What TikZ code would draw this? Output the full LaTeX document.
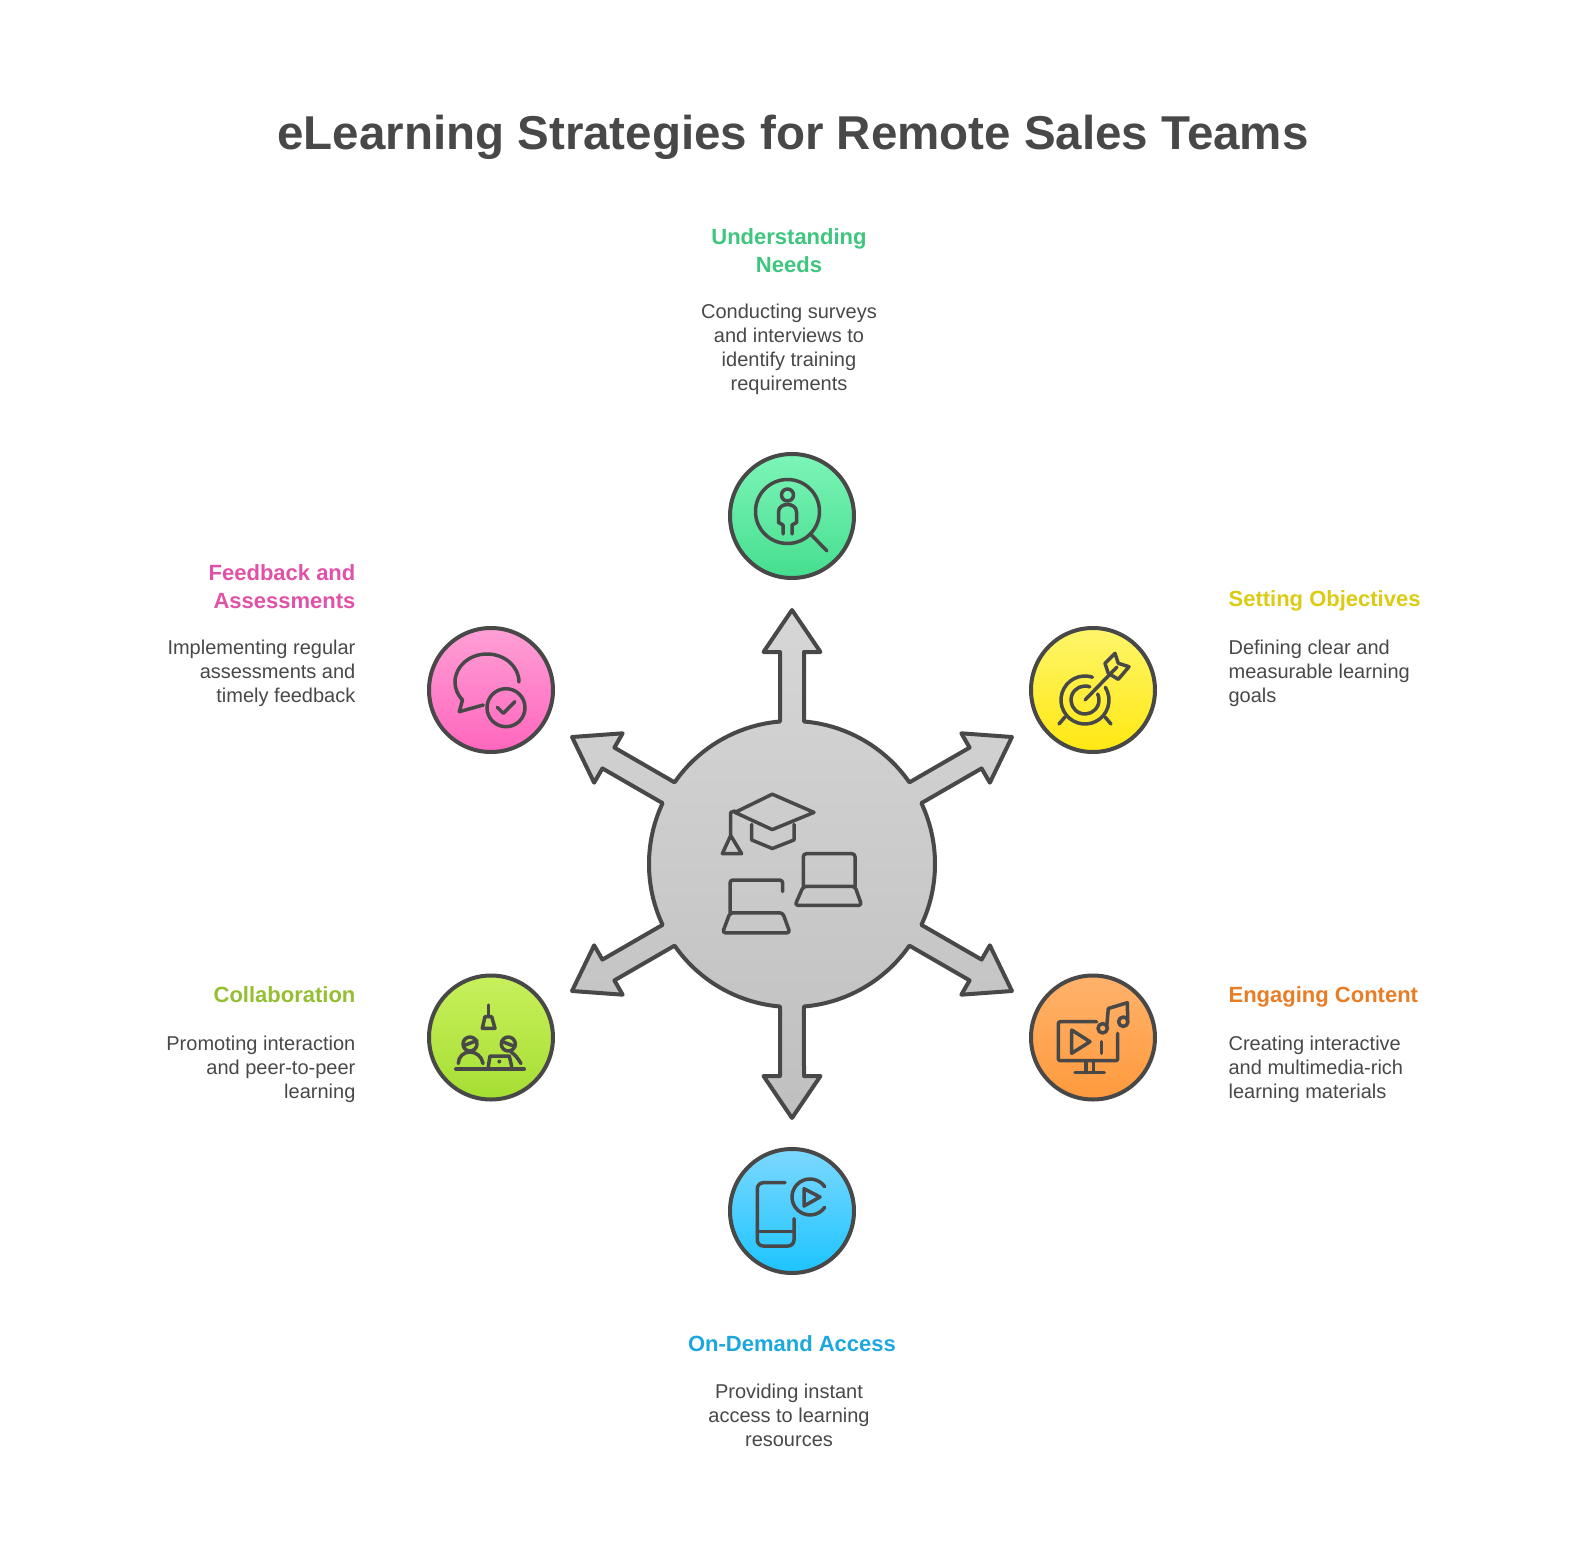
\documentclass[tikz,border=0pt]{standalone}
\usepackage{fontspec}
\setmainfont{Liberation Sans}
\usepackage{tikz}
\definecolor{ink}{HTML}{484848}
\definecolor{needscol}{HTML}{3EC67E}
\definecolor{goalscol}{HTML}{DCCB13}
\definecolor{contentcol}{HTML}{E87D25}
\definecolor{accesscol}{HTML}{1CA8DD}
\definecolor{collabcol}{HTML}{96BE32}
\definecolor{feedbackcol}{HTML}{E052A8}

\begin{document}
\begin{tikzpicture}[
            x=1pt,
            y=1pt,
            line join=round,
            badge/.style={circle, minimum size=124pt, inner sep=0pt, draw=ink, line width=4pt},
            icon/.style={draw=ink, line width=3.5pt, line cap=round, line join=round},
            heading/.style={inner sep=0pt, font=\fontsize{22}{28}\selectfont\bfseries},
            blurb/.style={inner sep=0pt, text=ink, font=\fontsize{20}{24}\selectfont}
        ]
            \useasboundingbox (-792,864) rectangle (792,-684);
            \coordinate (hub) at (0,0);
            \node[font=\fontsize{47.5}{58}\selectfont\bfseries, text=ink, inner sep=0pt] (title) at (1,727) {eLearning Strategies for Remote Sales Teams};

            \draw[draw=ink, line width=4pt, top color=black!16, bottom color=black!25] ([rotate=90]142.5,12)
                foreach \a in {90,30,-30,-90,-150,-210} {
                    -- ([rotate=\a]212,12) -- ([rotate=\a]212,28.5) -- ([rotate=\a]254,0) -- ([rotate=\a]212,-28.5)
                    -- ([rotate=\a]212,-12) -- ([rotate=\a]142.5,-12)
                    arc[radius=143, start angle=\a-4.81, end angle=\a-55.19]
                } -- cycle;

            \node[badge, top color={rgb,255:red,125;green,245;blue,184}, bottom color={rgb,255:red,69;green,222;blue,142}] (needs) at (0,348) {};
            \node[badge, top color={rgb,255:red,255;green,245;blue,107}, bottom color={rgb,255:red,255;green,232;blue,17}] (goals) at (301,174) {};
            \node[badge, top color={rgb,255:red,255;green,178;blue,107}, bottom color={rgb,255:red,255;green,154;blue,61}] (content) at (301,-173.5) {};
            \node[badge, top color={rgb,255:red,125;green,216;blue,255}, bottom color={rgb,255:red,28;green,196;blue,255}] (access) at (0,-347) {};
            \node[badge, top color={rgb,255:red,200;green,240;blue,92}, bottom color={rgb,255:red,165;green,222;blue,50}] (collab) at (-301,-173.5) {};
            \node[badge, top color={rgb,255:red,255;green,159;blue,214}, bottom color={rgb,255:red,255;green,102;blue,189}] (feedback) at (-301,174) {};

            \node[heading, text=needscol, align=center] (needshead) at (-3,613) {Understanding\\Needs};
            \node[blurb, align=center] (needstext) at (-3,515) {Conducting surveys\\and interviews to\\identify training\\requirements};
            \node[heading, text=goalscol, anchor=west] (goalshead) at (436.4,263) {Setting Objectives};
            \node[blurb, align=left, anchor=west] (goalstext) at (436.4,191) {Defining clear and\\measurable learning\\goals};
            \node[heading, text=contentcol, anchor=west] (contenthead) at (436.4,-133) {Engaging Content};
            \node[blurb, align=left, anchor=west] (contenttext) at (436.4,-205) {Creating interactive\\and multimedia-rich\\learning materials};
            \node[heading, text=accesscol] (accesshead) at (0,-479.5) {On-Demand Access};
            \node[blurb, align=center] (accesstext) at (-3,-551) {Providing instant\\access to learning\\resources};
            \node[heading, text=collabcol, anchor=east] (collabhead) at (-436.4,-131) {Collaboration};
            \node[blurb, align=right, anchor=east] (collabtext) at (-436.4,-205) {Promoting interaction\\and peer-to-peer\\learning};
            \node[heading, text=feedbackcol, align=right, anchor=east] (feedbackhead) at (-436.4,277) {Feedback and\\Assessments};
            \node[blurb, align=right, anchor=east] (feedbacktext) at (-436.4,191) {Implementing regular\\assessments and\\timely feedback};

            % cap and two laptops
            \begin{scope}[shift={(hub)}]
                \draw[icon] (-19.7,69.8) -- (22,51.6) -- (-19.7,34.4) -- (-57,51.6) -- cycle;
                \draw[icon] (-57,53) -- (-61.3,51.6) -- (-61.3,28.5) -- (-50.3,10.3) -- (-69.7,10.3) -- (-61.3,28.5);
                \draw[icon] (-40.3,39.6) -- (-40.3,24) -- (-19.7,15.5) -- (2,24) -- (2,39.6);
                \draw[icon, rounded corners=3pt] (11.3,-22.4) -- (11.3,10.3) -- (63,10.3) -- (63,-22.4);
                \draw[icon, rounded corners=3pt] (11.3,-22.4) -- (63,-22.4) -- (69.7,-41.3) -- (3,-41.3) -- cycle;
                \draw[icon, rounded corners=3pt] (-9.3,-27.5) -- (-9.3,-16) -- (-62,-16) -- (-62,-48.8);
                \draw[icon, rounded corners=3pt] (-62,-48.8) -- (-9.3,-48.8) -- (-2,-68.8) -- (-69.5,-68.8) -- cycle;
            \end{scope}

            \begin{scope}[shift={(needs)}]
                \draw[icon] (-4.5,4.5) circle[radius=32];
                \draw[icon] (18.5,-18) -- (35,-35);
                \draw[icon] (-4.5,21) circle[radius=6];
                \draw[icon] (-9,-18) -- (-9,-9) -- (-13.5,-6.5) -- (-13.5,4) .. controls (-13.5,9) and (-9,11.5) .. (-4.5,11.5) .. controls (0,11.5) and (4.5,9) .. (4.5,4) -- (4.5,-6.5) -- (0,-9) -- (0,-18);
            \end{scope}

            \begin{scope}[shift={(goals)}]
                \draw[icon] (-8,-10) ++(72:24) arc[radius=24, start angle=72, end angle=392];
                \draw[icon] (-8,-10) ++(70:14) arc[radius=14, start angle=70, end angle=385];
                \draw[icon] (-8,-10) -- (24,23);
                \draw[icon] (12,26.7) -- (22,36.7) -- (25.3,26.7) -- (36,23.3) -- (25.3,10.7) -- (15.3,16.7) -- cycle;
                \draw[icon] (-28,-27) -- (-34,-34);
                \draw[icon] (12,-27) -- (18,-34);
            \end{scope}

            \begin{scope}[shift={(content)}]
                \draw[icon, rounded corners=2pt] (3.7,15.8) -- (-34.7,15.8) -- (-34.7,-23.2) -- (24.7,-23.2) -- (24.7,4.2);
                \draw[icon] (-7,-23.2) -- (-7,-35) (0.3,-23.2) -- (0.3,-35) (-18,-35) -- (11.3,-35);
                \draw[icon] (-21.3,7.5) -- (-3,-4.2) -- (-21.3,-15.8) -- cycle;
                \draw[icon] (8.7,-4.2) -- (8.7,-15.8);
                \draw[icon] (9.7,9.2) circle[radius=4.7];
                \draw[icon] (30.3,15.8) circle[radius=4.7];
                \draw[icon] (13.7,10.8) -- (15.3,29) -- (34.3,34.8) -- (34.7,17.5);
            \end{scope}

            \begin{scope}[shift={(access)}]
                \draw[icon, rounded corners=6pt] (-7,28.3) -- (-34.7,28.3) -- (-34.7,-35) -- (2,-35) -- (2,-7.7);
                \draw[icon] (-34.7,-20.3) -- (2,-20.3);
                \draw[icon] (18,14) ++(35:18) arc[radius=18, start angle=35, end angle=325];
                \draw[icon] (12,22.3) -- (28,14) -- (12,5) -- cycle;
            \end{scope}

            \begin{scope}[shift={(collab)}]
                \draw[icon] (-2.7,32.5) -- (-2.7,20.8);
                \draw[icon] (-6,20.8) -- (0.7,20.8) -- (4,9.2) -- (-8.7,9.2) -- cycle;
                \draw[icon, line width=4pt] (-35,-31.5) -- (33,-31.5);
                \draw[icon] (-21,-6.5) circle[radius=7];
                \draw[icon] (-27,-8) -- (-14,-3);
                \draw[icon] (-32.7,-26) .. controls (-32.7,-19) and (-27,-14.5) .. (-21,-14.5) .. controls (-15,-14.5) and (-9,-19) .. (-8,-26);
                \draw[icon] (17.3,-6.5) circle[radius=7];
                \draw[icon] (11,-4) -- (24,-9);
                \draw[icon] (20,-14.5) .. controls (24,-17) and (27,-21) .. (30,-26);
                \draw[icon] (-2.7,-29) -- (-1,-18.5) -- (18.3,-18.5) -- (20.7,-29);
                \fill[ink] (8.3,-24) circle[radius=2];
            \end{scope}

            \begin{scope}[shift={(feedback)}]
                \draw[icon] (28,8) arc[x radius=32, y radius=28, start angle=0, end angle=220] -- (-31.7,-21.7) -- (-7.7,-15);
                \draw[icon] (15,-17.7) circle[radius=19];
                \draw[icon] (6.3,-17.3) -- (12.3,-23.3) -- (24,-11.7);
            \end{scope}
        \end{tikzpicture}
\end{document}
